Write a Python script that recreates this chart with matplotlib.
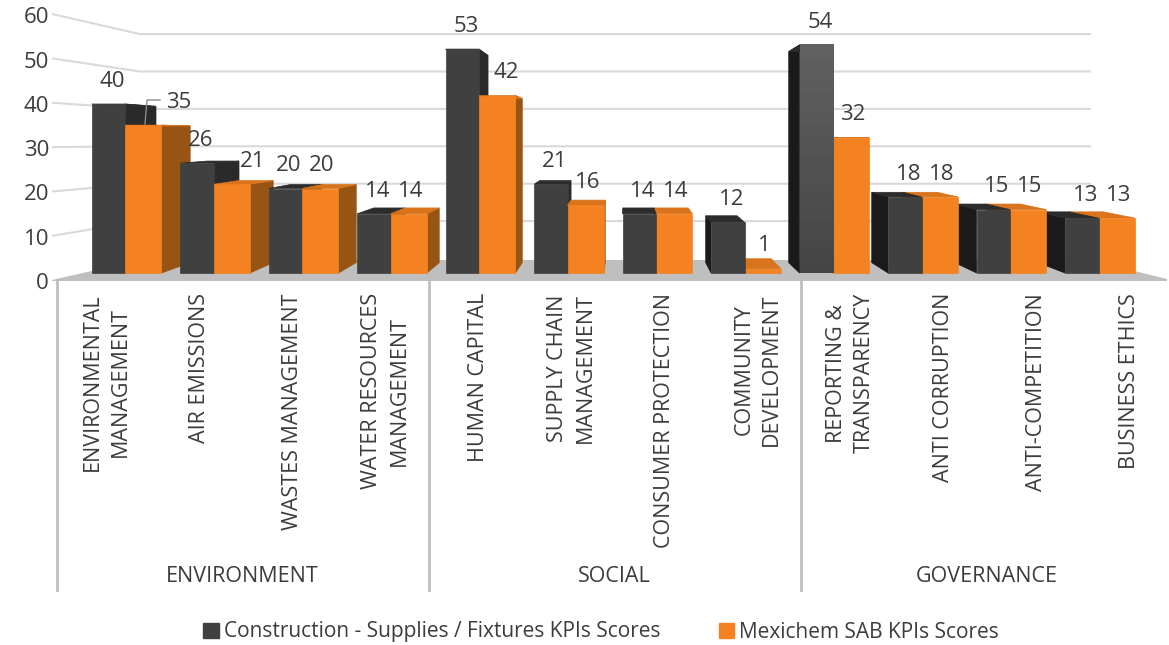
import numpy as np
import matplotlib
matplotlib.use("Agg")
import matplotlib.pyplot as plt
from matplotlib.patches import Polygon, Patch

plt.rcParams['font.family'] = ['Open Sans', 'DejaVu Sans']

categories = ["ENVIRONMENTAL\nMANAGEMENT", "AIR EMISSIONS", "WASTES MANAGEMENT", "WATER RESOURCES\nMANAGEMENT",
              "HUMAN CAPITAL", "SUPPLY CHAIN\nMANAGEMENT", "CONSUMER PROTECTION", "COMMUNITY\nDEVELOPMENT",
              "REPORTING &\nTRANSPARENCY", "ANTI CORRUPTION", "ANTI-COMPETITION", "BUSINESS ETHICS"]
groups = ["ENVIRONMENT", "SOCIAL", "GOVERNANCE"]
sector_scores = [40, 26, 20, 14, 53, 21, 14, 12, 54, 18, 15, 13]
mexichem_scores = [35, 21, 20, 14, 42, 16, 14, 1, 32, 18, 15, 13]
value_ticks = [0, 10, 20, 30, 40, 50, 60]
series_names = ["Construction - Supplies / Fixtures KPIs Scores", "Mexichem SAB KPIs Scores"]

TEXT = "#3c3c3c"
DARK, DARK_TOP = "#404040", "#2c2c2c"
ORANGE, ORANGE_TOP, ORANGE_SIDE = "#F58220", "#D9741C", "#985412"
GRID = "#D9D9D9"
FLOOR = "#BFBFBF"

# scale: one category = 88.5 px, one score point = 4.225 px at the front plane
W, H = 1169, 645
fig = plt.figure(figsize=(W / 100, H / 100), dpi=100)
ax = fig.add_axes([0, 0, 1, 1])
ax.set_xlim(-125 / 88.5, (W - 125) / 88.5)
ax.set_ylim(-(H - 273) / 4.225, 273 / 4.225)
ax.axis("off")


def px(x):
    return (x - 125) / 88.5


def py(y):
    return (273 - y) / 4.225


# perspective of the fake 3d box
VX, VY = px(625), py(135)
KX, KY = 0.062, 0.075


def back(x, v):
    return x + KX * (VX - x), v + KY * (VY - v)


def draw_bar(x0, x1, v, front, top, side, z, gradient=False):
    if x0 > VX:
        ax.add_patch(Polygon([(x0, 0), back(x0, 0), back(x0, v), (x0, v)], fc=side, ec=side, lw=0.5, zorder=z))
    elif x1 < VX:
        ax.add_patch(Polygon([(x1, 0), back(x1, 0), back(x1, v), (x1, v)], fc=side, ec=side, lw=0.5, zorder=z))
    ax.add_patch(Polygon([(x0, v), (x1, v), back(x1, v), back(x0, v)], fc=top, ec=top, lw=0.5, zorder=z + 0.1))
    if gradient:
        g = np.linspace(0.38, 0.27, 50).reshape(-1, 1)
        ax.imshow(g, extent=(x0, x1, 0, v), aspect="auto", cmap="gray", vmin=0, vmax=1,
                  origin="upper", zorder=z + 0.2)
        ax.set_xlim(-125 / 88.5, (W - 125) / 88.5)
        ax.set_ylim(-(H - 273) / 4.225, 273 / 4.225)
    else:
        ax.add_patch(Polygon([(x0, 0), (x1, 0), (x1, v), (x0, v)], fc=front, ec=front, lw=0.5, zorder=z + 0.2))


# walls and floor
for v in value_ticks[1:]:
    ax.plot([px(53), px(140), px(1090)],
            [py(280 - 4.43 * v), py(258.5 - 3.74 * v), py(258.5 - 3.74 * v)],
            color=GRID, lw=1.5, zorder=1)
ax.add_patch(Polygon([(px(52), py(280)), (px(140), py(260)), (px(1090), py(260)), (px(1167), py(279)),
                      (px(1167), py(281)), (px(52), py(281))], fc=FLOOR, ec="none", zorder=2))

# bars, outer ones first so the inner ones cover them
order = sorted(range(12), key=lambda i: -abs(i - VX))
z = 3
for i in order:
    d_part = (i - 0.378, i, sector_scores[i], DARK, DARK_TOP, "#2a2a2a" if i < VX else "#1a1a1a", i == 8)
    o_part = (i, i + 0.412, mexichem_scores[i], ORANGE, ORANGE_TOP, ORANGE_SIDE, False)
    parts = [d_part, o_part] if i < VX else [o_part, d_part]
    for x0, x1, v, front, top, side, grad in parts:
        draw_bar(x0, x1, v, front, top, side, z, gradient=grad)
        z += 1

# data labels
nudge = {0: 0.385, 1: 0.215, 4: 0.085}
for i in range(12):
    ax.text(i - 0.147, sector_scores[i] + 5.4, str(sector_scores[i]), ha="center", va="center",
            fontsize=16, color=TEXT, zorder=100)
    ax.text(i + 0.226 + nudge.get(i, 0), mexichem_scores[i] + 5.4, str(mexichem_scores[i]), ha="center", va="center",
            fontsize=16, color=TEXT, zorder=100)
ax.plot([px(145), px(147), px(160)], [py(124), py(100), py(100)], color="#8C8C8C", lw=1, zorder=99)

# value axis labels
for v in value_ticks:
    ax.text(px(49), py(283.5 - 4.43 * v), str(v), ha="right", va="center", fontsize=16, color=TEXT)

# category labels
slot = 93
for i, name in enumerate(categories):
    ax.text(px(60 + slot * (i + 0.5)), py(293), name, rotation=90, ha="center", va="top",
            multialignment="center", fontsize=15.5, color=TEXT, linespacing=1.4)

# group labels and separators
for j, g in enumerate(groups):
    ax.text(px(56.5 + slot * (4 * j + 2)), py(576), g, ha="center", va="center", fontsize=15.5, color=TEXT)
for j in range(3):
    xs = px(56.5 + slot * 4 * j)
    ax.plot([xs, xs], [py(281), py(590)], color=FLOOR, lw=2, zorder=2)

handles = [Patch(fc=DARK, ec=DARK), Patch(fc=ORANGE, ec=ORANGE)]
ax.legend(handles, series_names, loc="center", bbox_to_anchor=(601 / W, 1 - 632 / H), bbox_transform=fig.transFigure,
          ncol=2, frameon=False, fontsize=15, labelcolor=TEXT, handlelength=0.75, handleheight=0.75,
          handletextpad=0.25, columnspacing=2.8)

fig.savefig("out.png", dpi=100)
